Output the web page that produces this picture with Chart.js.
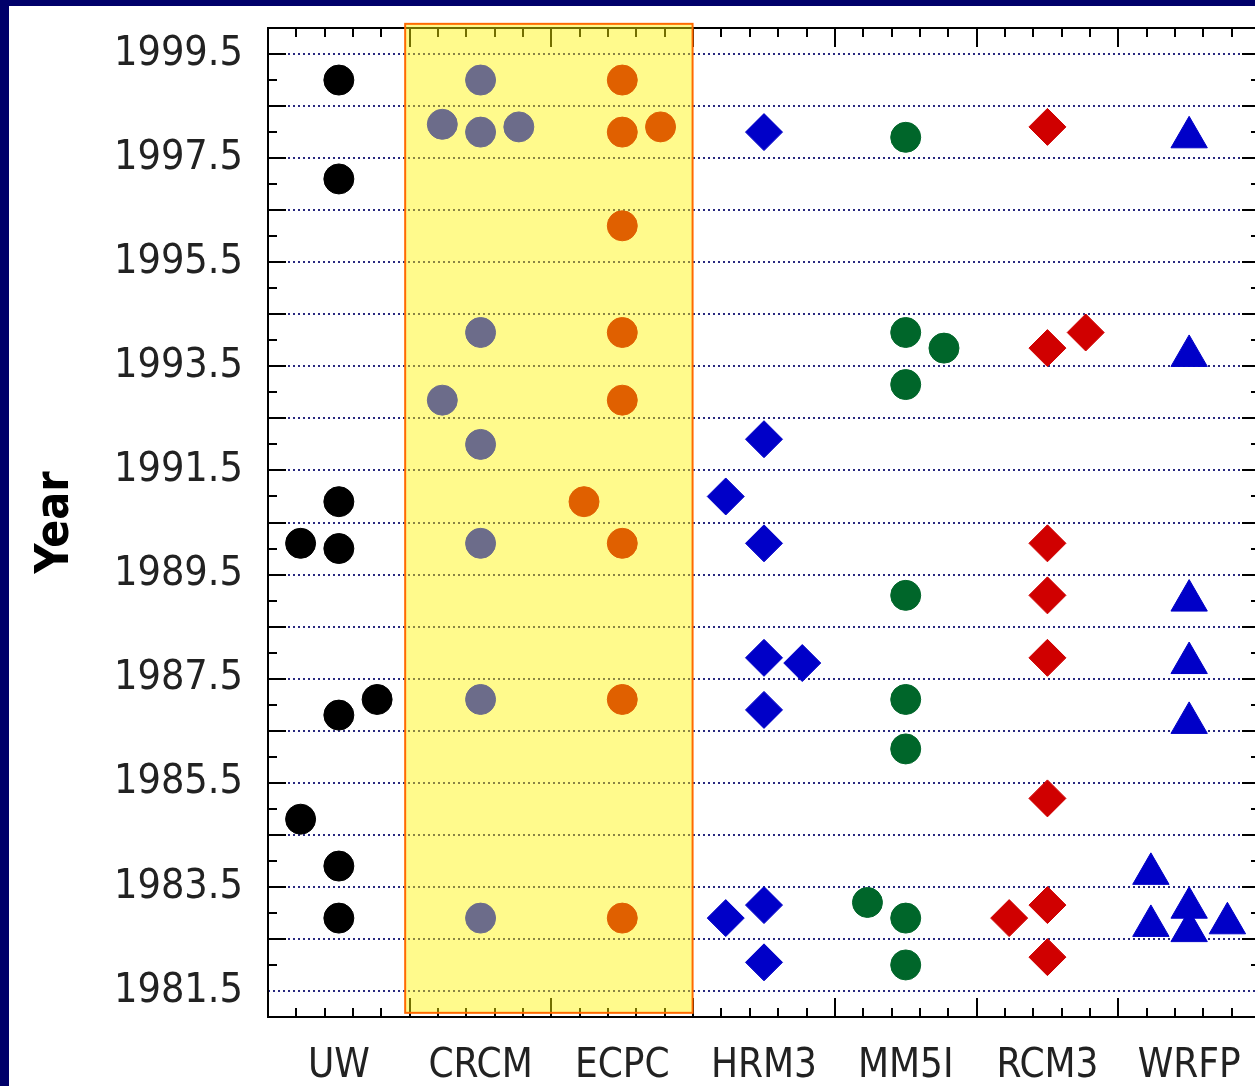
<!DOCTYPE html>
<html>
<head>
<meta charset="utf-8">
<script src="https://cdn.jsdelivr.net/npm/chart.js@4/dist/chart.umd.min.js"></script>
<style>
  html, body { margin: 0; padding: 0; background: #00006a; overflow: hidden; width: 1255px; height: 1086px; }
  #wrap { position: absolute; left: 9px; top: 6px; width: 1273px; height: 1080px; background: #fff; }
</style>
</head>
<body>
<div id="wrap"><canvas id="yearChart" width="1273" height="1080"></canvas></div>
<script>
  // models along the x axis
  const models = ['UW', 'CRCM', 'ECPC', 'HRM3', 'MM5I', 'RCM3', 'WRFP'];

  // years per model, plus a side slot (-1 left, 0 centre, 1 right) for overlapping marks
  const uwYears   = [1999.0, 1997.1, 1990.9, 1990.1, 1990.0, 1986.8, 1987.1, 1984.8, 1983.9, 1982.9];
  const uwSlots   = [0, 0, 0, -1, 0, 0, 1, -1, 0, 0];
  const crcmYears = [1999.0, 1998.15, 1998.0, 1998.1, 1994.15, 1992.85, 1992.0, 1990.1, 1987.1, 1982.9];
  const crcmSlots = [0, -1, 0, 1, 0, -1, 0, 0, 0, 0];
  const ecpcYears = [1999.0, 1998.0, 1998.1, 1996.2, 1994.15, 1992.85, 1990.9, 1990.1, 1987.1, 1982.9];
  const ecpcSlots = [0, 0, 1, 0, 0, 0, -1, 0, 0, 0];
  const hrm3Years = [1998.0, 1992.1, 1991.0, 1990.1, 1987.9, 1987.8, 1986.9, 1982.9, 1983.15, 1982.05];
  const hrm3Slots = [0, 0, -1, 0, 0, 1, 0, -1, 0, 0];
  const mm5iYears = [1997.9, 1994.15, 1993.85, 1993.15, 1989.1, 1987.1, 1986.15, 1983.2, 1982.9, 1982.0];
  const mm5iSlots = [0, 0, 1, 0, 0, 0, 0, -1, 0, 0];
  const rcm3Years = [1998.1, 1993.85, 1994.15, 1990.1, 1989.1, 1987.9, 1985.2, 1982.9, 1983.15, 1982.15];
  const rcm3Slots = [0, 0, 1, 0, 0, 0, 0, -1, 0, 0];
  const wrfpYears = [1997.9, 1993.7, 1989.0, 1987.8, 1986.65, 1983.75, 1982.75, 1983.1, 1982.65, 1982.8];
  const wrfpSlots = [0, 0, 0, 0, 0, -1, -1, 0, 0, 1];

  // y tick values (gridlines) and which of them get a label
  const yTicks = [1981.5, 1982.5, 1983.5, 1984.5, 1985.5, 1986.5, 1987.5, 1988.5, 1989.5, 1990.5,
                  1991.5, 1992.5, 1993.5, 1994.5, 1995.5, 1996.5, 1997.5, 1998.5, 1999.5];
  const yLabels = [1981.5, 1983.5, 1985.5, 1987.5, 1989.5, 1991.5, 1993.5, 1995.5, 1997.5, 1999.5];

  const SPREAD = 0.27;
  const FONT = "'DejaVu Sans Condensed', 'DejaVu Sans', sans-serif";

  function pts(idx, years, slots) {
    return years.map((y, i) => ({ x: idx + 0.5 + slots[i] * SPREAD, y: y }));
  }

  function ds(idx, years, slots, color, style, r) {
    return {
      label: models[idx],
      data: pts(idx, years, slots),
      backgroundColor: color,
      borderColor: color,
      borderWidth: 1,
      pointStyle: style,
      pointRadius: r
    };
  }

  function noPad(s) {
    s.paddingLeft = 0; s.paddingRight = 0; s.paddingTop = 0; s.paddingBottom = 0;
  }

  // frame, inner ticks and the highlighted box
  const frame = {
    id: 'frame',
    beforeDatasetsDraw(chart) {
      const ctx = chart.ctx;
      const a = chart.chartArea;
      const xs = chart.scales.x, ys = chart.scales.y;
      ctx.save();
      ctx.strokeStyle = '#000';
      ctx.lineWidth = 2;
      ctx.beginPath();
      // y ticks on left and right
      for (let v = 1982; v <= 1999.5; v += 0.5) {
        const py = Math.round(ys.getPixelForValue(v));
        const len = (v % 1 !== 0) ? 18 : 9;
        ctx.moveTo(a.left, py); ctx.lineTo(a.left + len, py);
        ctx.moveTo(a.right, py); ctx.lineTo(a.right - len, py);
      }
      // x ticks on top and bottom
      for (let k = 1; k < 35; k++) {
        const v = k * 0.2;
        const px = Math.round(xs.getPixelForValue(v));
        const len = (k % 5 === 0) ? 19 : 9;
        ctx.moveTo(px, a.bottom); ctx.lineTo(px, a.bottom - len);
        ctx.moveTo(px, a.top); ctx.lineTo(px, a.top + len);
      }
      ctx.stroke();
      ctx.strokeRect(a.left, a.top, a.right - a.left, a.bottom - a.top);

      // yellow box over CRCM and ECPC
      const x0 = xs.getPixelForValue(0.968), x1 = xs.getPixelForValue(2.996);
      const y0 = ys.getPixelForValue(2000.08), y1 = ys.getPixelForValue(1981.08);
      ctx.fillStyle = 'rgba(255, 245, 0, 0.45)';
      ctx.fillRect(x0, y0, x1 - x0, y1 - y0);
      ctx.strokeStyle = '#ff6a00';
      ctx.lineWidth = 2;
      ctx.strokeRect(x0, y0, x1 - x0, y1 - y0);
      ctx.restore();
    }
  };

  const config = {
    type: 'scatter',
    data: {
      datasets: [
        ds(0, uwYears, uwSlots, '#000000', 'circle', 15),
        ds(1, crcmYears, crcmSlots, '#6c6c8a', 'circle', 15),
        ds(2, ecpcYears, ecpcSlots, '#e06000', 'circle', 15),
        ds(3, hrm3Years, hrm3Slots, '#0000c8', 'rectRot', 18.5),
        ds(4, mm5iYears, mm5iSlots, '#00662a', 'circle', 15),
        ds(5, rcm3Years, rcm3Slots, '#d00000', 'rectRot', 18.5),
        ds(6, wrfpYears, wrfpSlots, '#0000c8', 'triangle', 21)
      ]
    },
    options: {
      responsive: false,
      animation: false,
      layout: { padding: { top: 22, right: 2.5, left: 0, bottom: 0 } },
      plugins: {
        legend: { display: false },
        tooltip: { enabled: false }
      },
      scales: {
        x: {
          type: 'linear',
          min: 0,
          max: 7,
          afterBuildTicks: (s) => { s.ticks = models.map((m, i) => ({ value: i + 0.5 })); },
          afterFit: (s) => { s.height = 69; noPad(s); },
          grid: { display: false, drawTicks: false },
          border: { display: false },
          ticks: {
            autoSkip: false,
            maxRotation: 0,
            padding: 30,
            color: '#222',
            font: { family: FONT, size: 40, lineHeight: 1 },
            callback: (v) => models[Math.round(v - 0.5)]
          }
        },
        y: {
          min: 1981,
          max: 2000,
          afterBuildTicks: (s) => { s.ticks = yTicks.map(v => ({ value: v })); },
          afterFit: (s) => { s.width = 259; noPad(s); },
          grid: { color: '#28287f', lineWidth: 2, drawTicks: false },
          border: { display: false, dash: [2, 3] },
          ticks: {
            autoSkip: false,
            padding: 25,
            color: '#222',
            font: { family: FONT, size: 41, lineHeight: 1 },
            callback: (v) => yLabels.includes(v) ? v.toFixed(1) : ''
          },
          title: {
            display: true,
            text: 'Year',
            color: '#000',
            padding: { top: 19, bottom: 0 },
            font: { family: FONT, size: 46, weight: 'bold', lineHeight: 1.2 }
          }
        }
      }
    },
    plugins: [frame]
  };

  const yearChart = new Chart(document.getElementById('yearChart'), config);
</script>
</body>
</html>
